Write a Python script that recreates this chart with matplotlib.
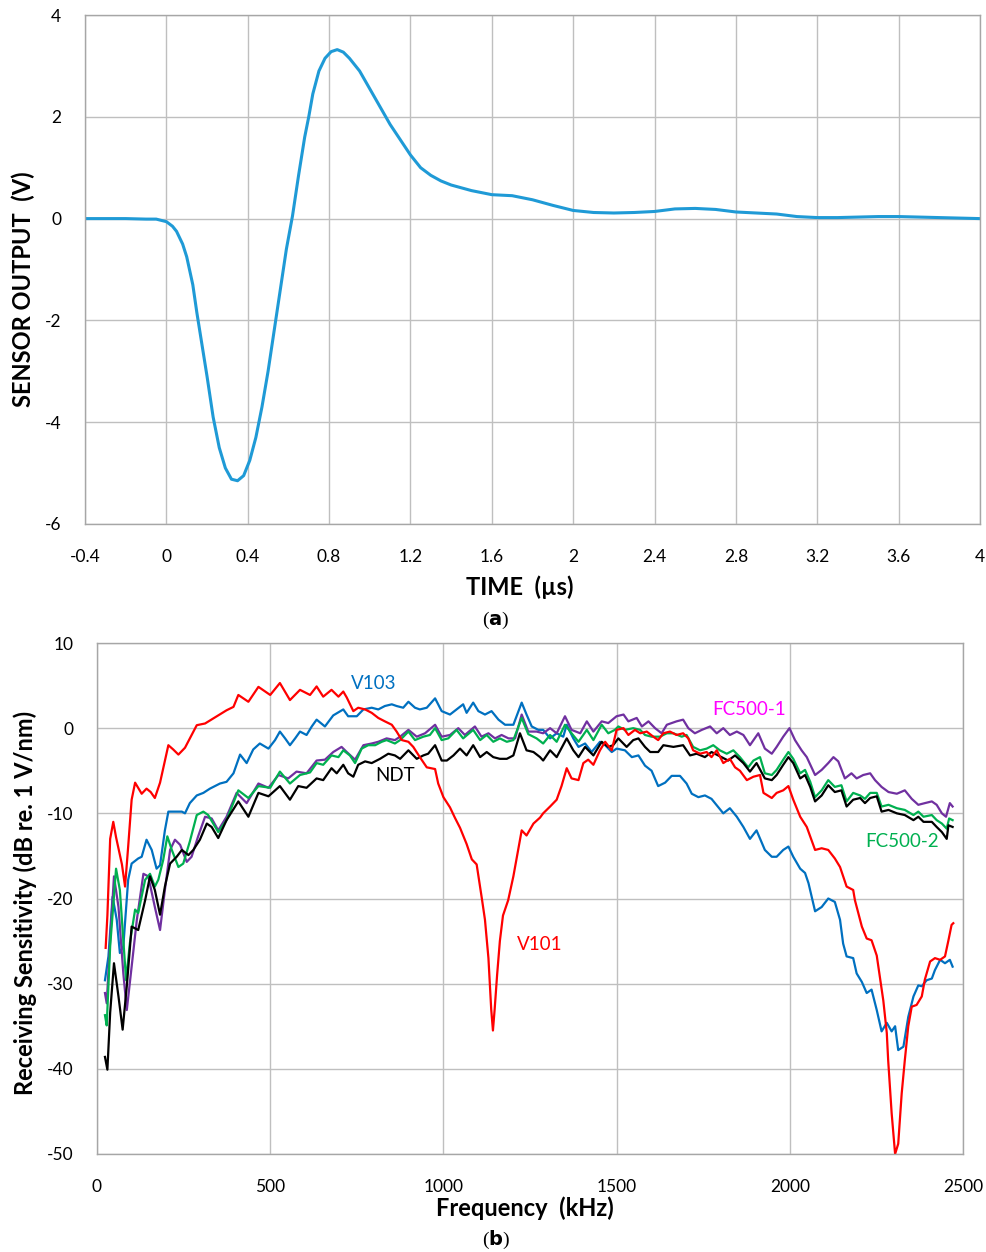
import numpy as np
import matplotlib
matplotlib.use("Agg")
from matplotlib import pyplot as plt

plt.rcParams['font.family'] = ['Lato', 'DejaVu Sans']
plt.rcParams['axes.unicode_minus'] = False

# (a) sensor output pulse
czas = [-0.4, -0.2, -0.1, -0.05, 0, 0.03, 0.05, 0.08, 0.1, 0.13, 0.15, 0.18, 0.2, 0.23, 0.26, 0.29,
        0.32, 0.35, 0.38, 0.41, 0.44, 0.47, 0.5, 0.53, 0.56, 0.59, 0.62, 0.65, 0.68, 0.7, 0.72, 0.75,
        0.78, 0.81, 0.84, 0.87, 0.9, 0.95, 1.0, 1.05, 1.1, 1.15, 1.2, 1.25, 1.3, 1.35, 1.4, 1.5, 1.6,
        1.7, 1.8, 1.9, 2.0, 2.1, 2.2, 2.3, 2.4, 2.5, 2.6, 2.7, 2.8, 2.9, 3.0, 3.1, 3.2, 3.3, 3.4, 3.5,
        3.6, 3.7, 3.8, 3.9, 4.0]
napiecie = [0, 0.0, -0.01, -0.01, -0.06, -0.15, -0.25, -0.5, -0.75, -1.3, -1.85, -2.6, -3.1, -3.9,
            -4.5, -4.9, -5.12, -5.15, -5.05, -4.75, -4.3, -3.7, -3.0, -2.2, -1.4, -0.6, 0.05, 0.85,
            1.6, 2.0, 2.45, 2.9, 3.15, 3.28, 3.32, 3.27, 3.15, 2.9, 2.55, 2.2, 1.85, 1.55, 1.25, 1.0,
            0.85, 0.74, 0.66, 0.55, 0.47, 0.45, 0.37, 0.26, 0.16, 0.12, 0.11, 0.12, 0.14, 0.19, 0.2,
            0.18, 0.13, 0.11, 0.09, 0.04, 0.02, 0.02, 0.03, 0.04, 0.04, 0.03, 0.02, 0.01, 0.0]

# (b) receiving sensitivity, dB re. 1 V/nm vs kHz
v101_f = [25, 30, 38, 47, 55, 64, 72, 81, 90, 100, 110, 129, 143, 155, 167, 182, 206, 220, 235, 254,
          288, 312, 350, 374, 394, 408, 437, 466, 500, 528, 557, 586, 615, 634, 653, 677, 697, 711,
          721, 740, 754, 774, 793, 812, 831, 851, 865, 880, 899, 913, 932, 952, 976, 985, 1000, 1019,
          1033, 1048, 1067, 1082, 1096, 1111, 1120, 1130, 1138, 1143, 1148, 1155, 1163, 1172, 1187,
          1202, 1226, 1240, 1260, 1279, 1288, 1308, 1327, 1341, 1356, 1370, 1390, 1404, 1418, 1433,
          1452, 1467, 1486, 1500, 1520, 1534, 1553, 1568, 1587, 1606, 1620, 1635, 1654, 1673, 1692,
          1707, 1721, 1741, 1760, 1774, 1789, 1808, 1827, 1842, 1856, 1876, 1895, 1914, 1924, 1948,
          1962, 1981, 1996, 2010, 2030, 2049, 2073, 2092, 2111, 2130, 2145, 2164, 2183, 2188, 2208,
          2222, 2236, 2251, 2260, 2270, 2280, 2284, 2294, 2304, 2313, 2323, 2332, 2342, 2352, 2366,
          2381, 2390, 2405, 2419, 2434, 2448, 2458, 2467, 2472]
v101_db = [-25.8, -22, -13, -11.0, -12.8, -14.5, -16, -18.6, -13.9, -8.4, -6.4, -7.7, -7.1, -7.5,
           -8.2, -6.4, -2.0, -2.5, -3.1, -2.3, 0.35, 0.55, 1.5, 2.1, 2.5, 3.9, 3.1, 4.85, 3.9, 5.3,
           3.3, 4.5, 3.9, 4.9, 3.7, 4.5, 3.7, 4.3, 3.6, 2.0, 2.4, 2.2, 1.8, 1.2, 0.8, 0.4, -0.4, -1.4,
           -1.6, -2.2, -3.4, -4.6, -4.8, -6.5, -8.1, -9.3, -10.5, -11.7, -13.6, -15.4, -16.0, -20,
           -22.5, -27, -33, -35.5, -33, -29, -25, -22, -20.2, -17.4, -12, -12.6, -11.2, -10.5, -10,
           -9.2, -8.4, -6.8, -4.7, -5.9, -6.1, -4.1, -3.7, -4.3, -2.6, -1.6, -2.6, -0.2, 0, -0.8,
           -0.2, -0.6, -0.4, -1.0, -1.4, -0.6, -0.4, -0.8, -0.6, -1.2, -2.6, -3.0, -2.8, -3.4, -2.6,
           -4.1, -3.6, -4.6, -5.0, -6.1, -5.7, -5.5, -7.6, -8.2, -7.6, -7.3, -6.8, -8.4, -10.4, -11.6,
           -14.3, -14.1, -14.3, -15.3, -16.3, -18.6, -19.0, -20.2, -23.3, -24.7, -24.9, -26.7, -29.2,
           -32, -35.8, -39, -45.2, -50, -48.8, -42.9, -39, -35, -32.7, -32.5, -31.5, -29.5, -27.4,
           -27, -27.2, -26.8, -24.9, -23.1, -22.9]

v103_f = [23, 33, 45, 57, 66, 76, 90, 100, 119, 129, 143, 158, 172, 182, 196, 206, 225, 245, 254,
          268, 288, 307, 326, 355, 374, 394, 413, 432, 451, 470, 495, 514, 528, 543, 557, 572, 586,
          605, 620, 634, 658, 682, 711, 725, 750, 769, 793, 812, 831, 851, 865, 884, 899, 918, 932,
          952, 976, 995, 1019, 1038, 1057, 1067, 1086, 1101, 1120, 1139, 1159, 1178, 1202, 1226,
          1240, 1255, 1274, 1288, 1308, 1327, 1346, 1356, 1375, 1390, 1409, 1428, 1452, 1467, 1486,
          1500, 1524, 1544, 1563, 1582, 1601, 1620, 1640, 1659, 1683, 1702, 1717, 1736, 1755, 1774,
          1794, 1808, 1827, 1847, 1866, 1885, 1904, 1928, 1948, 1962, 1981, 1996, 2010, 2030, 2044,
          2054, 2073, 2092, 2111, 2130, 2145, 2154, 2164, 2183, 2193, 2208, 2222, 2236, 2251, 2265,
          2280, 2294, 2304, 2313, 2328, 2342, 2357, 2371, 2381, 2395, 2410, 2419, 2434, 2448, 2462,
          2470]
v103_db = [-29.6, -26.8, -19.8, -22.5, -26.4, -25.6, -17.8, -15.9, -15.3, -15.1, -13.1, -14.3,
           -16.5, -16.1, -12, -9.8, -9.8, -9.8, -10, -8.8, -7.9, -7.6, -7.1, -6.5, -6.3, -5.3, -3.1,
           -4.1, -2.5, -1.8, -2.4, -1.4, -0.4, -1.2, -2.0, -1.2, -0.4, -0.8, 0.2, 1.0, 0.2, 1.5, 2.2,
           1.4, 1.4, 2.2, 2.4, 2.2, 2.6, 2.8, 2.6, 2.4, 3.1, 2.4, 2.2, 2.4, 3.5, 2.0, 1.6, 2.2, 2.8,
           1.8, 3.0, 2.0, 1.6, 2.0, 1.0, 0.4, 0.4, 3.0, 1.6, 0.2, -0.2, -0.2, -1.2, -0.6, -1.0, 0.4,
           -1.2, -2.2, -1.8, -2.8, -1.6, -2.0, -2.8, -2.4, -2.6, -3.4, -3.2, -4.4, -5.0, -6.8, -6.4,
           -5.6, -5.6, -6.5, -7.7, -8.1, -7.9, -8.3, -9.3, -10, -9.4, -10.4, -11.6, -13, -12, -14.3,
           -15.1, -15.1, -14.3, -13.9, -15.1, -16.5, -17.0, -18.2, -21.5, -21, -20, -20.4, -22.5,
           -25.3, -26.8, -27.0, -28.8, -29.8, -31.1, -30.7, -33.1, -35.6, -34.6, -35.6, -35, -37.8,
           -37.4, -33.9, -31.5, -30.2, -30.3, -29.6, -29.4, -28.4, -27.2, -27.6, -27.2, -28.0]

ndt_f = [23, 30, 38, 49, 62, 74, 86, 100, 119, 139, 153, 167, 182, 196, 211, 230, 245, 264, 278,
         297, 317, 331, 350, 374, 408, 437, 466, 495, 528, 557, 581, 605, 634, 653, 677, 692, 711,
         725, 740, 754, 774, 793, 817, 841, 860, 875, 899, 923, 942, 956, 976, 995, 1010, 1029, 1048,
         1067, 1086, 1106, 1125, 1144, 1163, 1183, 1202, 1221, 1240, 1260, 1279, 1288, 1308, 1327,
         1356, 1375, 1390, 1409, 1433, 1457, 1476, 1490, 1505, 1529, 1548, 1563, 1582, 1597, 1620,
         1635, 1664, 1692, 1712, 1731, 1755, 1774, 1803, 1822, 1842, 1866, 1885, 1904, 1928, 1948,
         1962, 1981, 1996, 2010, 2030, 2044, 2059, 2073, 2092, 2111, 2130, 2149, 2164, 2183, 2203,
         2217, 2232, 2251, 2265, 2285, 2309, 2332, 2357, 2371, 2386, 2410, 2424, 2439, 2453, 2458,
         2470]
ndt_db = [-38.6, -40.1, -33.4, -27.6, -31.5, -35.4, -30.3, -23.3, -23.7, -20.2, -17.4, -19, -21.9,
          -18.6, -15.9, -15.1, -14.3, -14.9, -14.3, -13.1, -11.2, -11.6, -12.9, -10.8, -8.6, -10.4,
          -7.6, -8.0, -6.8, -8.4, -6.8, -7.0, -5.9, -6.1, -4.7, -5.3, -4.3, -5.3, -5.7, -4.3, -3.9,
          -4.1, -3.6, -3.0, -3.2, -3.6, -2.6, -3.6, -3.2, -3.0, -2.0, -3.8, -3.8, -3.2, -2.4, -3.2,
          -2.0, -3.4, -2.8, -3.4, -3.6, -3.6, -3.2, -0.6, -2.6, -2.8, -3.4, -3.8, -2.6, -3.4, -1.2,
          -2.6, -3.4, -2.2, -3.2, -1.6, -2.2, -2.0, -1.2, -2.2, -1.4, -1.2, -2.2, -2.8, -2.8, -2.0,
          -2.2, -2.0, -3.2, -3.0, -3.4, -2.8, -3.4, -3.8, -3.2, -4.1, -5.1, -4.1, -5.9, -6.1, -5.5,
          -4.3, -3.4, -4.1, -5.9, -5.5, -6.9, -8.6, -7.9, -6.7, -7.5, -7.3, -9.2, -8.4, -8.2, -8.8,
          -8.2, -8.0, -9.8, -9.6, -10, -10.2, -10.8, -10.4, -11, -11, -11.6, -12.2, -13.0, -11.4,
          -11.6]

fc2_f = [23, 28, 38, 55, 66, 84, 95, 110, 119, 139, 153, 167, 177, 191, 203, 216, 235, 249, 268,
         288, 307, 321, 350, 374, 408, 437, 466, 500, 528, 557, 586, 615, 634, 653, 677, 697, 711,
         730, 745, 764, 783, 803, 822, 836, 860, 875, 899, 918, 942, 961, 976, 995, 1014, 1038, 1057,
         1086, 1106, 1125, 1144, 1163, 1183, 1202, 1226, 1245, 1269, 1288, 1308, 1327, 1351, 1370,
         1390, 1414, 1433, 1457, 1476, 1495, 1505, 1524, 1548, 1568, 1582, 1601, 1625, 1645, 1664,
         1688, 1702, 1721, 1741, 1760, 1779, 1798, 1818, 1837, 1856, 1880, 1895, 1914, 1928, 1948,
         1962, 1981, 1996, 2010, 2030, 2044, 2059, 2073, 2092, 2111, 2130, 2149, 2164, 2183, 2203,
         2217, 2232, 2251, 2265, 2285, 2309, 2332, 2357, 2371, 2386, 2410, 2424, 2439, 2453, 2460,
         2470]
fc2_db = [-33.7, -34.9, -25.6, -16.5, -19.0, -29.6, -25.2, -21.3, -21.7, -17.8, -17.1, -18.6, -17.8,
          -15.5, -12.7, -14.3, -16.3, -15.9, -13.3, -10.2, -9.8, -10.2, -12.2, -10.8, -7.3, -8.2,
          -6.8, -7.0, -5.1, -6.5, -5.5, -5.2, -4.1, -4.3, -3.2, -3.4, -2.6, -3.2, -4.1, -2.4, -2.0,
          -2.0, -1.6, -1.4, -1.8, -1.4, -0.4, -1.4, -1.0, -0.8, 0, -1.4, -1.2, -0.2, -1.2, -0.2,
          -1.4, -0.8, -1.6, -1.2, -1.6, -1.4, 1.2, -0.7, -1.2, -1.8, -0.8, -1.6, 0.4, -0.6, -1.6,
          -0.2, -1.4, 0.4, -0.6, -0.2, 0.2, -0.2, 0, -0.2, -0.8, -1.0, -1.0, -0.6, -0.6, -1.0, -0.8,
          -2.2, -2.6, -2.4, -2.0, -2.6, -3.0, -2.6, -3.4, -4.6, -3.8, -3.4, -5.3, -5.5, -4.9, -3.7,
          -2.8, -3.6, -5.3, -4.9, -6.3, -8.1, -7.3, -6.1, -6.9, -6.7, -8.6, -7.6, -7.9, -8.3, -7.6,
          -7.6, -9.2, -9.0, -9.4, -9.6, -10.2, -9.8, -10.4, -10.2, -10.8, -11.2, -11.8, -10.6, -10.8]

fc1_f = [23, 28, 38, 49, 62, 76, 86, 100, 115, 134, 148, 167, 182, 196, 211, 225, 240, 259, 273,
         292, 312, 331, 350, 374, 403, 432, 466, 495, 524, 552, 576, 605, 634, 658, 682, 706, 721,
         745, 769, 793, 812, 836, 860, 875, 899, 923, 947, 976, 995, 1019, 1043, 1062, 1091, 1110,
         1130, 1149, 1168, 1188, 1207, 1226, 1245, 1269, 1288, 1308, 1327, 1351, 1370, 1395, 1414,
         1433, 1457, 1476, 1500, 1520, 1534, 1558, 1573, 1592, 1611, 1630, 1645, 1673, 1692, 1707,
         1726, 1746, 1770, 1789, 1808, 1827, 1847, 1866, 1885, 1909, 1928, 1948, 1962, 1981, 1999,
         2015, 2034, 2049, 2073, 2092, 2111, 2126, 2140, 2159, 2178, 2193, 2212, 2232, 2246, 2265,
         2285, 2309, 2332, 2352, 2371, 2390, 2410, 2424, 2439, 2451, 2462, 2470]
fc1_db = [-31.1, -32.3, -24.9, -17.4, -21, -28.8, -33.1, -28, -22.5, -17.1, -17.4, -21, -23.7, -19,
          -14.3, -13.1, -13.7, -15.7, -15.1, -12.7, -10.4, -10.6, -12, -10.4, -7.6, -8.8, -6.5,
          -7.0, -5.5, -5.9, -5.1, -5.3, -3.8, -3.7, -2.8, -2.2, -2.8, -3.7, -2.0, -1.8, -1.6, -1.2,
          -1.4, -1.0, -0.2, -1.0, -0.6, 0.4, -1.0, -0.8, 0, -0.8, 0.2, -1.0, -0.6, -1.2, -0.8, -1.2,
          -1.2, 1.6, -0.4, -0.4, -0.6, 0, -0.6, 1.4, -0.2, -0.6, 0.8, -0.4, 0.8, 0.6, 1.4, 1.6, 0.8,
          1.2, 0.2, 0.8, 0, -0.6, 0.4, 0.8, 1.0, 0, -0.6, -0.2, 0.2, -0.6, 0, -0.8, -0.4, -0.8,
          -2.0, -0.6, -2.4, -3.0, -2.2, -1.0, 0, -1.4, -2.6, -3.4, -5.5, -4.9, -4.1, -3.4, -3.9,
          -5.9, -5.3, -5.9, -5.5, -5.3, -6.1, -6.9, -7.5, -7.7, -7.3, -8.3, -9.0, -8.8, -8.6, -9.0,
          -10.0, -10.4, -8.8, -9.2]

siatka = '#BFBFBF'
ramka = '#A6A6A6'

fig = plt.figure(figsize=(9.86, 12.52), dpi=100)

# --- wykres (a)
ax1 = fig.add_axes([85 / 986, 1 - 524 / 1252, 895 / 986, 509 / 1252])
ax1.plot(czas, napiecie, color='#1F9AD6', lw=2.2, solid_joinstyle='round')
ax1.set_xlim(-0.4, 4)
ax1.set_ylim(-6, 4)
ax1.set_xticks(np.arange(-0.4, 4.01, 0.4))
ax1.set_xticklabels(['-0.4', '0', '0.4', '0.8', '1.2', '1.6', '2', '2.4', '2.8', '3.2', '3.6', '4'])
ax1.set_yticks(np.arange(-6, 4.01, 2))
ax1.set_yticklabels(['-6', '-4', '-2', '0', '2', '4'])

# --- wykres (b)
ax2 = fig.add_axes([97 / 986, 1 - 1154 / 1252, 866 / 986, 511 / 1252])
ax2.plot(v103_f, v103_db, color='#0070C0', lw=1.6)
ax2.plot(fc1_f, fc1_db, color='#7030A0', lw=1.6)
ax2.plot(fc2_f, fc2_db, color='#00B050', lw=1.6)
ax2.plot(ndt_f, ndt_db, color='black', lw=1.6)
ax2.plot(v101_f, v101_db, color='#FF0000', lw=1.6)
ax2.set_xlim(0, 2500)
ax2.set_ylim(-50, 10)
ax2.set_xticks(np.arange(0, 2501, 500))
ax2.set_yticks(np.arange(-50, 11, 10))
ax2.set_yticklabels(['-50', '-40', '-30', '-20', '-10', '0', '10'])

for ax in (ax1, ax2):
    ax.grid(True, color=siatka, lw=1.0)
    ax.set_axisbelow(True)
    for s in ax.spines.values():
        s.set_color(ramka)
        s.set_linewidth(1.0)
    ax.tick_params(length=0, labelsize=12.5, colors='black')
    ax.tick_params(axis='x', pad=18)
    ax.tick_params(axis='y', pad=17)

# etykiety serii
ax2.text(800, 5.3, 'V103', color='#0070C0', fontsize=13.5, ha='center', va='center')
ax2.text(860, -5.6, 'NDT', color='black', fontsize=13.5, ha='center', va='center')
ax2.text(1883, 2.2, 'FC500-1', color='#FF00FF', fontsize=13.5, ha='center', va='center')
ax2.text(2324, -13.3, 'FC500-2', color='#00B050', fontsize=13.5, ha='center', va='center')
ax2.text(1278, -25.4, 'V101', color='#FF0000', fontsize=13.5, ha='center', va='center')

# opisy osi
fig.text(520 / 986, 1 - 587 / 1252, 'TIME  (µs)', fontsize=17, fontweight='bold', ha='center', va='center')
fig.text(23 / 986, 1 - 289 / 1252, 'SENSOR OUTPUT  (V)', fontsize=17, fontweight='bold',
         rotation=90, ha='center', va='center')
fig.text(525 / 986, 1 - 1208 / 1252, 'Frequency  (kHz)', fontsize=17, fontweight='bold', ha='center', va='center')
fig.text(25 / 986, 1 - 903 / 1252, 'Receiving Sensitivity (dB re. 1 V/nm)', fontsize=17, fontweight='bold',
         rotation=90, ha='center', va='center')

fig.text(496 / 986, 1 - 620 / 1252, '(a)', fontsize=14, ha='center', va='center',
         family=['Liberation Serif', 'DejaVu Serif'])
fig.text(496 / 986, 1 - 1240 / 1252, '(b)', fontsize=14, ha='center', va='center',
         family=['Liberation Serif', 'DejaVu Serif'])
# pogrubione litery w nawiasach
for txt in fig.texts[-2:]:
    txt.set_text('(' + r'$\mathbf{' + txt.get_text()[1] + '}$' + ')')

plt.savefig('out.png', dpi=100)
plt.close()
